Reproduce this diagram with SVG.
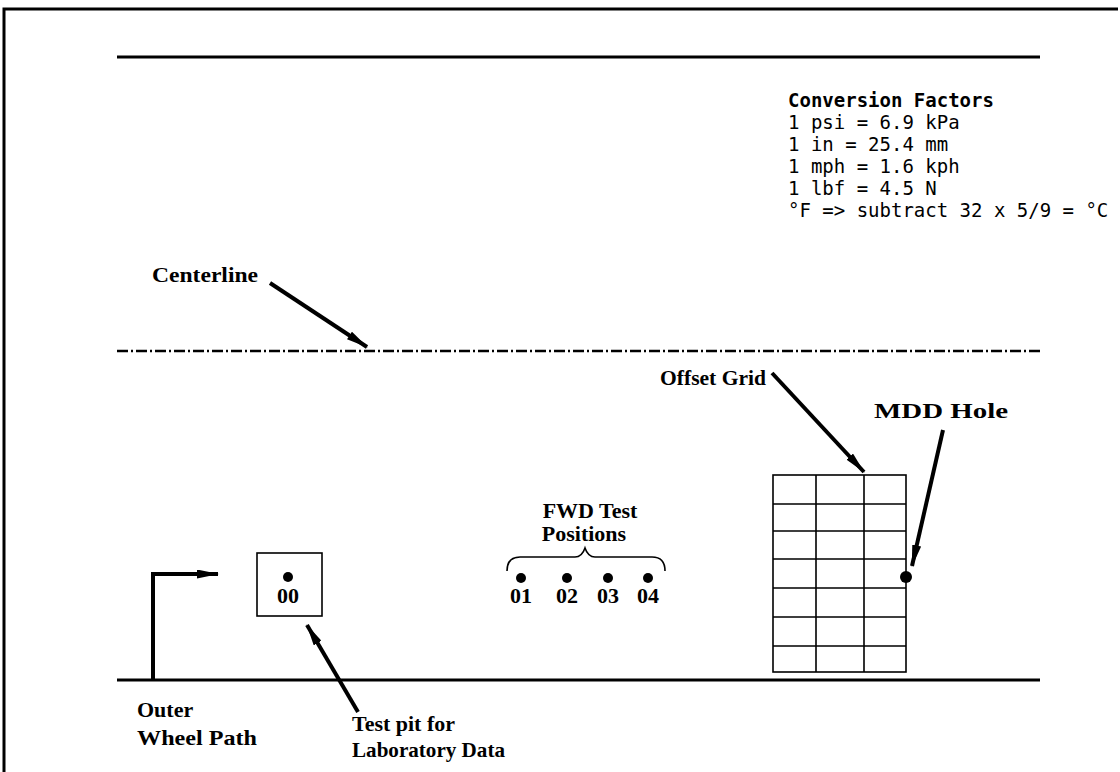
<svg xmlns="http://www.w3.org/2000/svg" width="1120" height="772" viewBox="0 0 1120 772">
<defs>
<style>
.frame{stroke:#000;stroke-width:3;fill:none}
.road{stroke:#000;stroke-width:3;fill:none}
.cl{stroke:#000;stroke-width:2.5;fill:none;stroke-dasharray:11 3 2 3}
.thin{stroke:#000;stroke-width:1.6;fill:none}
.arrow{stroke:#000;stroke-width:4;fill:none;marker-end:url(#ah)}
.lbl{font-family:"Liberation Serif","Times New Roman",serif;font-weight:bold;font-size:22px;fill:#000}
.conv{font-family:"DejaVu Sans Mono","Liberation Mono",monospace;font-size:19px;fill:#000;letter-spacing:0px}
.dot{fill:#000}
</style>
<marker id="ah" viewBox="0 0 22 9" refX="21" refY="4.5" markerWidth="22" markerHeight="9" markerUnits="userSpaceOnUse" orient="auto">
<path d="M0,0 L22,4.5 L0,9 Z" fill="#000"/>
</marker>
</defs>
<rect width="1120" height="772" fill="#fff"/>
<g id="frame">
<path class="frame" d="M4,772 V9 H1118"/>
</g>
<g id="road">
<line class="road" x1="117" y1="57" x2="1040" y2="57"/>
<line class="cl" x1="117" y1="351" x2="1040" y2="351"/>
<line class="road" x1="117" y1="680" x2="1040" y2="680"/>
</g>
<g id="conversion">
<text class="conv" x="788" y="107" font-weight="bold">Conversion Factors</text>
<text class="conv" x="788" y="129">1 psi = 6.9 kPa</text>
<text class="conv" x="788" y="151">1 in = 25.4 mm</text>
<text class="conv" x="788" y="173">1 mph = 1.6 kph</text>
<text class="conv" x="788" y="195">1 lbf = 4.5 N</text>
<text class="conv" x="788" y="217">°F =&gt; subtract 32 x 5/9 = °C</text>
</g>
<g id="centerline-label">
<text class="lbl" x="152" y="282" textLength="106" lengthAdjust="spacingAndGlyphs">Centerline</text>
</g>
<g id="offset-grid">
<text class="lbl" x="660" y="385" textLength="106" lengthAdjust="spacingAndGlyphs">Offset Grid</text>
<rect class="thin" x="773" y="475" width="133" height="197"/>
<path class="thin" d="M816,475 V672 M864,475 V672 M773,504 H906 M773,531 H906 M773,559 H906 M773,588 H906 M773,617 H906 M773,646 H906"/>
</g>
<g id="mdd-hole">
<text class="lbl" x="874" y="418" textLength="134" lengthAdjust="spacingAndGlyphs">MDD Hole</text>
<circle class="dot" cx="906" cy="577" r="6"/>
</g>
<g id="fwd">
<text class="lbl" x="590" y="518" text-anchor="middle">FWD Test</text>
<text class="lbl" x="584" y="541" text-anchor="middle">Positions</text>
<path class="thin" d="M507,571 Q507,557 520,557 L575,557 Q582,557 585,548 Q588,557 595,557 L652,557 Q665,557 665,571"/>
<circle class="dot" cx="521" cy="578" r="5"/>
<circle class="dot" cx="567" cy="578" r="5"/>
<circle class="dot" cx="608" cy="578" r="5"/>
<circle class="dot" cx="648" cy="578" r="5"/>
<text class="lbl" x="521" y="603" text-anchor="middle">01</text>
<text class="lbl" x="567" y="603" text-anchor="middle">02</text>
<text class="lbl" x="608" y="603" text-anchor="middle">03</text>
<text class="lbl" x="648" y="603" text-anchor="middle">04</text>
</g>
<g id="test-pit">
<rect class="thin" x="257" y="553" width="65" height="63"/>
<circle class="dot" cx="288" cy="577" r="5"/>
<text class="lbl" x="288" y="603" text-anchor="middle">00</text>
<text class="lbl" x="352" y="731" textLength="103" lengthAdjust="spacingAndGlyphs">Test pit for</text>
<text class="lbl" x="352" y="757" textLength="153" lengthAdjust="spacingAndGlyphs">Laboratory Data</text>
</g>
<g id="outer-wheel-path">
<text class="lbl" x="137" y="717">Outer</text>
<text class="lbl" x="137" y="745" textLength="120" lengthAdjust="spacingAndGlyphs">Wheel Path</text>
</g>
<g id="connectors">
<path class="arrow" d="M153,680 V574 H218"/>
<line class="arrow" x1="270" y1="283" x2="367" y2="347"/>
<line class="arrow" x1="772" y1="373" x2="864" y2="472"/>
<line class="arrow" x1="943" y1="430" x2="912" y2="566"/>
<line class="arrow" x1="358" y1="712" x2="307" y2="625"/>
</g>
</svg>
